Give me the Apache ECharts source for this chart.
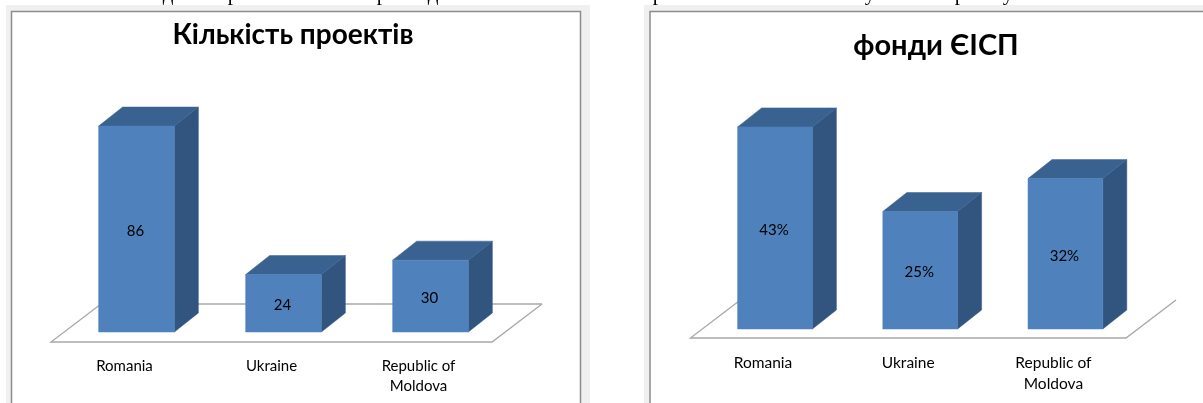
<!DOCTYPE html>
<html>
<head>
<meta charset="utf-8">
<style>html,body{margin:0;padding:0;background:#fff;overflow:hidden}#c{width:1203px;height:403px}</style>
<script src="https://cdn.jsdelivr.net/npm/echarts@6/dist/echarts.min.js"></script>
</head>
<body>
<div id="c"></div>
<script>
const categories = ['Romania', 'Ukraine', 'Republic of\nMoldova'];
const projectCounts = [86, 24, 30];
const fundShares = [43, 25, 32];
const titleLeft = 'Кількість проектів';
const titleRight = 'фонди ЄІСП';
const clippedGlyphs = [['д', 168], ['р', 233], ['р', 382], ['д', 433], ['р', 658], ['у', 870], ['р', 960], ['у', 1008]];

const FONT = 'Lato, "Open Sans", sans-serif';
const COL = { front: '#4f81bd', top: '#3a6291', side: '#32557f', floor: '#a8a8a8', frame: '#8c8c8c', band: '#f0f0f0' };
const DX = 24, DY = 19;

function poly(points, fill) {
  return { type: 'polygon', shape: { points: points }, style: { fill: fill, stroke: fill, lineWidth: 0.5 } };
}
function barRenderer(suffix) {
  return function (params, api) {
    const cat = api.value(0), val = api.value(1);
    const base = api.coord([cat, 0]);
    const top = api.coord([cat, val]);
    const band = api.size([1, 0])[0];
    const w = band * 0.515;
    const cx = base[0] + DX / 2;
    const l = cx - w / 2, r = cx + w / 2;
    const t = top[1], b = base[1];
    return {
      type: 'group',
      children: [
        poly([[r, t], [r + DX, t - DY], [r + DX, b - DY], [r, b]], COL.side),
        poly([[l, t], [l + DX, t - DY], [r + DX, t - DY], [r, t]], COL.top),
        poly([[l, t], [r, t], [r, b], [l, b]], COL.front),
        { type: 'text', x: cx - 1, y: (t + b) / 2 + 2,
          style: { text: val + suffix, fill: '#000', font: '15px ' + FONT, align: 'center', verticalAlign: 'middle' } }
      ]
    };
  };
}
function floorRenderer(front, showBack) {
  return function (params) {
    const s = params.coordSys;
    const x0 = s.x, x1 = s.x + s.width, y = s.y + s.height + front, by = y - 38, sh = 50;
    const st = { stroke: COL.floor, lineWidth: 1.3, fill: null };
    const kids = [
      { type: 'polyline', shape: { points: [[x0 + sh, by], [x0, y], [x1, y], [x1 + sh, by]] }, style: st }
    ];
    if (showBack) kids.push({ type: 'line', shape: { x1: x0 + sh, y1: by, x2: x1 + sh, y2: by }, style: st });
    return { type: 'group', children: kids };
  };
}
const rows = a => a.map((v, i) => [i, v]);
const xAxisOf = (gridIndex, margin, lh, size) => ({
  type: 'category', gridIndex: gridIndex, data: categories,
  axisLine: { show: false }, axisTick: { show: false },
  axisLabel: { interval: 0, margin: margin, color: '#000', fontFamily: FONT, fontSize: size, lineHeight: lh }
});
const yAxisOf = (gridIndex, max) => ({ type: 'value', gridIndex: gridIndex, min: 0, max: max, show: false, splitLine: { show: false } });

const frames = [
  { type: 'rect', shape: { x: 6, y: 5, width: 584, height: 420 }, style: { fill: COL.band }, z: -3 },
  { type: 'rect', shape: { x: 644, y: 5, width: 600, height: 420 }, style: { fill: COL.band }, z: -3 },
  { type: 'rect', shape: { x: 11.5, y: 11.5, width: 569, height: 420 }, style: { fill: '#fff', stroke: COL.frame, lineWidth: 1.5 }, z: -2 },
  { type: 'rect', shape: { x: 650, y: 11.5, width: 600, height: 420 }, style: { fill: '#fff', stroke: COL.frame, lineWidth: 1.5 }, z: -2 }
].concat(clippedGlyphs.map(g => ({
  type: 'text', x: g[1], y: -16, z: -1,
  style: { text: g[0], fill: '#000', font: '21px "Liberation Serif", serif', align: 'center', verticalAlign: 'top' }
})));

const chart = echarts.init(document.getElementById('c'), null, { renderer: 'canvas' });
chart.setOption({
  animation: false,
  backgroundColor: '#fff',
  graphic: { elements: frames },
  title: [
    { text: titleLeft, left: 288, top: 16, textAlign: 'center', textStyle: { fontFamily: FONT, fontWeight: 'bold', fontSize: 28, color: '#000' } },
    { text: titleRight, left: 931, top: 26, textAlign: 'center', textStyle: { fontFamily: FONT, fontWeight: 'bold', fontSize: 29, color: '#000' } }
  ],
  grid: [
    { left: 51, top: 92.5, width: 441, height: 239.5 },
    { left: 690.4, top: 94, width: 435.6, height: 235 }
  ],
  xAxis: [xAxisOf(0, 24, 20, 15), xAxisOf(1, 23, 21, 15.5)],
  yAxis: [yAxisOf(0, 100), yAxisOf(1, 50)],
  series: [
    { type: 'custom', xAxisIndex: 0, yAxisIndex: 0, data: [[0, 0]], renderItem: floorRenderer(10, true), silent: true, z: 1 },
    { type: 'custom', xAxisIndex: 0, yAxisIndex: 0, data: rows(projectCounts), renderItem: barRenderer(''), z: 2 },
    { type: 'custom', xAxisIndex: 1, yAxisIndex: 1, data: [[0, 0]], renderItem: floorRenderer(9, false), silent: true, z: 1 },
    { type: 'custom', xAxisIndex: 1, yAxisIndex: 1, data: rows(fundShares), renderItem: barRenderer('%'), z: 2 }
  ]
});
</script>
</body>
</html>
